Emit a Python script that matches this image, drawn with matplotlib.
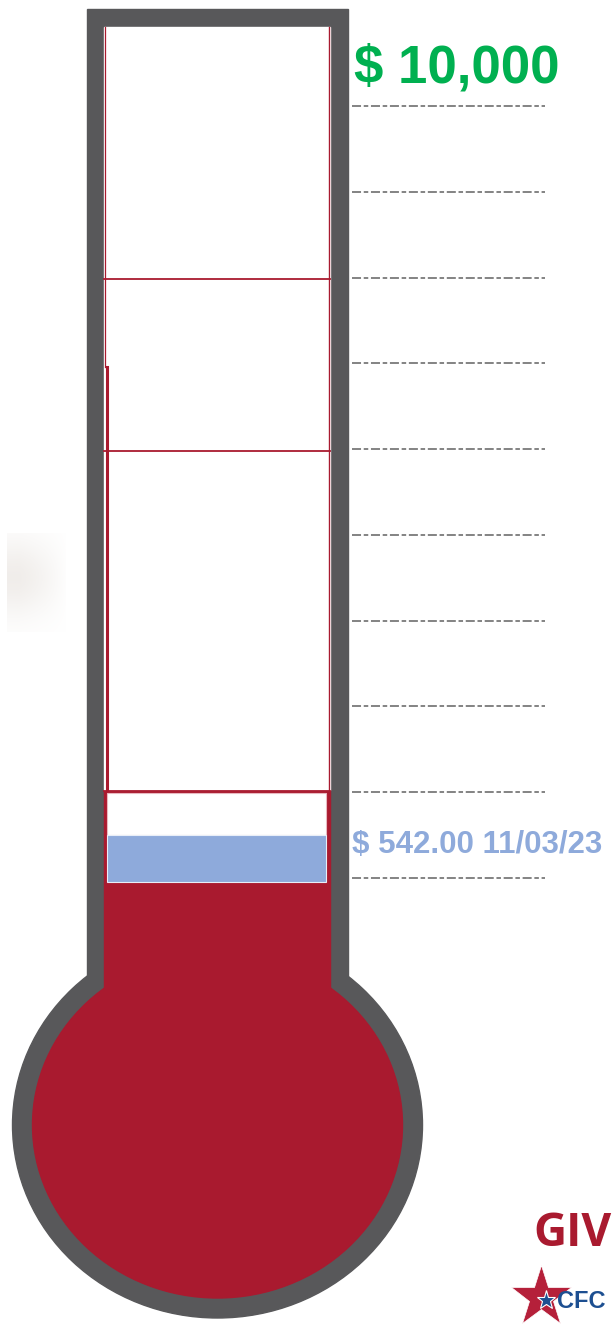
import matplotlib.pyplot as plt
import numpy as np
from matplotlib.patches import Rectangle, Ellipse

# data
goal = 10000
raised = 542.00
raised_date = "11/03/23"
tick_values = [1000, 2000, 3000, 4000, 5000, 6000, 7000, 8000, 9000, 10000]
goal_label = "$ {:,.0f}".format(goal)
raised_label = "$ {:.2f} {}".format(raised, raised_date)

GRAY = "#58585a"
RED = "#a91a2f"
BLUE = "#8eaadb"
GREEN = "#00b050"

fig = plt.figure(figsize=(6.13, 13.3), dpi=100)
ax = fig.add_axes([0, 0, 1, 1])
ax.set_xlim(0, 613)
ax.set_ylim(1330, 0)
ax.axis("off")

# soft shadow on the left
hx = np.linspace(0, 1, 60)
hy = np.linspace(0, 1, 100)
alpha = np.outer(np.exp(-((hy - 0.45) / 0.4) ** 2), np.clip(1.1 - hx ** 1.5, 0, 1)) * 0.4
img = np.zeros((100, 60, 4))
img[..., 0], img[..., 1], img[..., 2] = 0.86, 0.83, 0.80
img[..., 3] = alpha
ax.imshow(img, extent=[7, 66, 632, 533], aspect="auto", interpolation="bilinear", zorder=0)

# thermometer body
ax.add_patch(Ellipse((217.5, 1125), 410, 386, color=GRAY, zorder=1))
ax.add_patch(Rectangle((87, 9), 261, 1000, color=GRAY, zorder=1))
ax.add_patch(Ellipse((217.5, 1125), 370, 346, color=RED, zorder=2))
ax.add_patch(Rectangle((104, 789), 226, 240, color=RED, zorder=2))
ax.add_patch(Rectangle((104, 27), 226, 763, color="white", zorder=2))

# red guide lines inside the tube
for y in (279, 451, 791):
    ax.plot([104, 330], [y, y], color=RED, lw=1.3, zorder=3)
ax.plot([105, 105], [27, 367], color=RED, lw=0.9, zorder=3)
ax.plot([106.5, 106.5], [367, 790], color=RED, lw=2.2, zorder=3)
ax.plot([329, 329], [27, 790], color=RED, lw=1.0, zorder=3)

# current level box + blue band
ax.add_patch(Rectangle((107, 793), 219, 42, facecolor="white", edgecolor="#e8b8c0", lw=0.8, zorder=3))
ax.add_patch(Rectangle((107, 835), 219, 47, facecolor=BLUE, edgecolor="#e8eef8", lw=0.8, zorder=3))

# value axis for the scale
vax = ax.twinx()
vax.set_ylim(-4269.4, 11235.0)
vax.axis("off")
vax.hlines(tick_values, 352, 545, colors="#7a7a7a", lw=1.3,
           linestyles=[(0, (5, 1.5, 2.5, 1.5))], zorder=4)
vax.text(354, goal + 140, goal_label, color=GREEN, fontsize=38, fontweight="bold",
         family="Liberation Sans", ha="left", va="bottom")
ax.text(352, 845, raised_label, color=BLUE, fontsize=22.5, fontweight="bold",
        family="Liberation Sans", ha="left", va="center", zorder=5)

# logo in the corner
ax.text(533, 1233, "GIV", color=RED, fontsize=33, fontweight="bold",
        family="Open Sans", ha="left", va="center")
ax.plot([541], [1297], marker="*", ms=46, color="#b5203a", mec="white", mew=0.5, zorder=5)
ax.plot([546], [1300], marker="*", ms=14, color="#1d4f91", mec="white", mew=0.8, zorder=6)
ax.text(557, 1302, "CFC", color="#1d4f91", fontsize=17, fontweight="heavy",
        family="Liberation Sans", ha="left", va="center", zorder=6)

fig.savefig("out.png", dpi=100)
